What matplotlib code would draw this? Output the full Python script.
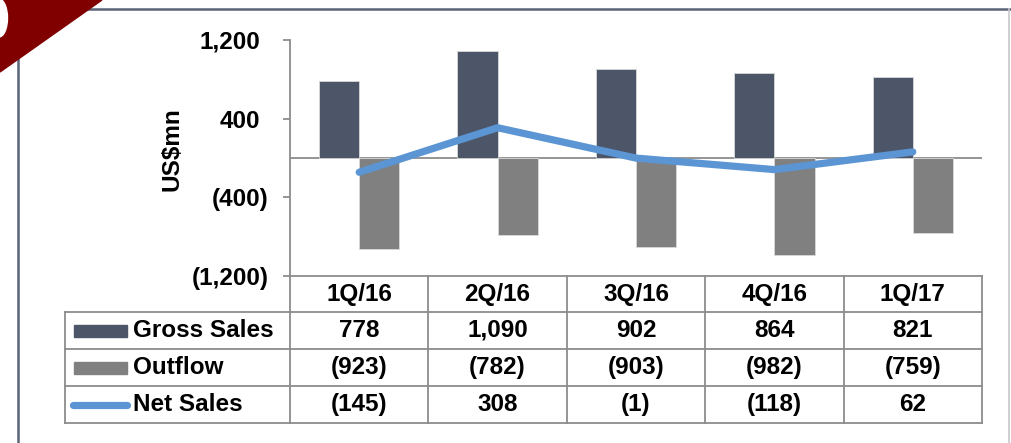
import matplotlib
matplotlib.use("Agg")
import matplotlib.pyplot as plt
from matplotlib.lines import Line2D
from matplotlib.patches import Rectangle, Polygon, Ellipse
from matplotlib.transforms import ScaledTranslation

# ---------------- data ----------------
quarters = ["1Q/16", "2Q/16", "3Q/16", "4Q/16", "1Q/17"]
gross_sales = [778, 1090, 902, 864, 821]
outflow = [-923, -782, -903, -982, -759]
net_sales = [-145, 308, -1, -118, 62]
series_names = ["Gross Sales", "Outflow", "Net Sales"]
y_ticks = [-1200, -400, 400, 1200]
y_label = "US$mn"

# ---------------- style ----------------
W, H = 1011, 443
DPI = 100
C_GROSS = "#4D5668"
C_OUT = "#808080"
C_NET = "#5B95D3"
C_GRID = "#8C8C8C"
C_RED = "#800000"
FS = 17.5
plt.rcParams["font.family"] = ["Liberation Sans", "DejaVu Sans"]
plt.rcParams["font.weight"] = "bold"


def fx(px):
    return px / W


def fy(py):
    return 1 - py / H


def fmt(v):
    s = f"{abs(v):,}"
    return f"({s})" if v < 0 else s


fig = plt.figure(figsize=(W / DPI, H / DPI), dpi=DPI)
fig.patch.set_facecolor("white")

# axes region
AX_L, AX_R, AX_T, AX_B = 290, 982, 40, 276
ax = fig.add_axes([fx(AX_L), fy(AX_B), (AX_R - AX_L) / W, (AX_B - AX_T) / H])
n = len(quarters)
centers = [i + 0.5 for i in range(n)]
bw = 0.29
ax.bar([c - bw / 2 for c in centers], gross_sales, width=bw, color=C_GROSS,
       edgecolor="#D9D9D9", linewidth=0.6, zorder=2)
ax.bar([c + bw / 2 for c in centers], outflow, width=bw, color=C_OUT,
       edgecolor="#D9D9D9", linewidth=0.6, zorder=2)
ax.axhline(0, color=C_GRID, lw=1.3, zorder=1)
ax.plot(centers, net_sales, color=C_NET, lw=5.2, solid_capstyle="round",
        solid_joinstyle="round", zorder=3)
ax.set_xlim(0, n)
ax.set_ylim(-1200, 1200)
ax.set_xticks([])
ax.set_yticks(y_ticks, [fmt(v) for v in y_ticks])
for s in ["top", "right", "bottom"]:
    ax.spines[s].set_visible(False)
ax.spines["left"].set_color(C_GRID)
ax.spines["left"].set_linewidth(1.3)
ax.tick_params(axis="y", length=5, width=1.3, color=C_GRID, pad=10.5,
               labelsize=FS)
for lbl in ax.get_yticklabels():
    lbl.set_fontweight("bold")
    if not lbl.get_text().startswith("("):
        lbl.set_transform(lbl.get_transform() +
                          ScaledTranslation(-8 / DPI, 0, fig.dpi_scale_trans))
ax.patch.set_alpha(0)

fig.text(fx(172), fy(149), y_label, rotation=90, ha="center", va="center",
         fontsize=FS, fontweight="bold")

# ---------------- table ----------------
col_edges = [290 + i * (982 - 290) / n for i in range(n + 1)]
row_edges = [276, 312, 349, 386, 423]
TL = 65


def hline(x0, x1, y):
    fig.add_artist(Line2D([fx(x0), fx(x1)], [fy(y), fy(y)], color=C_GRID,
                          lw=1.3, transform=fig.transFigure))


def vline(x, y0, y1):
    fig.add_artist(Line2D([fx(x), fx(x)], [fy(y0), fy(y1)], color=C_GRID,
                          lw=1.3, transform=fig.transFigure))


hline(col_edges[0], col_edges[-1], row_edges[0])
for y in row_edges[1:]:
    hline(TL, col_edges[-1], y)
for x in col_edges:
    vline(x, row_edges[0], row_edges[-1])
vline(TL, row_edges[1], row_edges[-1])

for i, q in enumerate(quarters):
    xc = (col_edges[i] + col_edges[i + 1]) / 2
    fig.text(fx(xc), fy((row_edges[0] + row_edges[1]) / 2), q, ha="center",
             va="center", fontsize=FS, fontweight="bold")
    for r, vals in enumerate([gross_sales, outflow, net_sales]):
        yc = (row_edges[r + 1] + row_edges[r + 2]) / 2
        fig.text(fx(xc), fy(yc), fmt(vals[i]), ha="center", va="center",
                 fontsize=FS, fontweight="bold")

for r, name in enumerate(series_names):
    yc = (row_edges[r + 1] + row_edges[r + 2]) / 2
    fig.text(fx(133), fy(yc), name, ha="left", va="center", fontsize=FS,
             fontweight="bold")

# legend keys
for r, col in enumerate([C_GROSS, C_OUT]):
    yc = (row_edges[r + 1] + row_edges[r + 2]) / 2
    fig.add_artist(Rectangle((fx(74), fy(yc + 6)), (127 - 74) / W, 12 / H,
                             color=col, transform=fig.transFigure))
yc = (row_edges[3] + row_edges[4]) / 2
fig.add_artist(Line2D([fx(73), fx(127)], [fy(yc), fy(yc)], color=C_NET,
                      lw=5.2, solid_capstyle="round",
                      transform=fig.transFigure))

# ---------------- frame & corner decoration ----------------
fig.add_artist(Line2D([fx(18), fx(1010)], [fy(9), fy(9)], color="#5A6478",
                      lw=1.8, transform=fig.transFigure))
fig.add_artist(Line2D([fx(18), fx(18)], [fy(9), fy(443)], color="#5A6478",
                      lw=1.8, transform=fig.transFigure))
fig.add_artist(Line2D([fx(1009), fx(1009)], [fy(9), fy(443)], color="#C8C8C8",
                      lw=1.2, transform=fig.transFigure))
fig.add_artist(Polygon([(fx(0), fy(0)), (fx(102), fy(0)), (fx(0), fy(72))],
                       closed=True, color=C_RED, transform=fig.transFigure,
                       zorder=5))
fig.add_artist(Ellipse((fx(-1), fy(18)), 17 / W, 38 / H, color="white",
                       transform=fig.transFigure, zorder=6))

fig.savefig("out.png", dpi=DPI)
